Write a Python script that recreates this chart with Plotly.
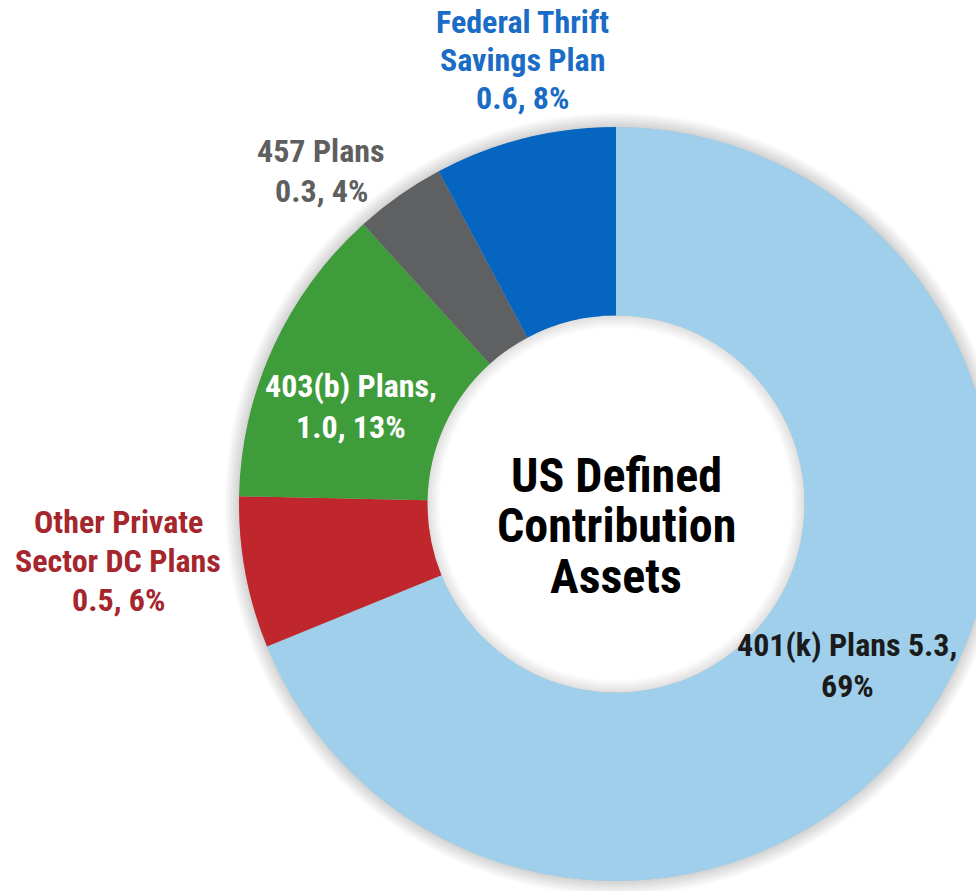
import plotly.graph_objects as go

# ---- data ----
plans = ["401(k) Plans", "Other Private Sector DC Plans", "403(b) Plans", "457 Plans", "Federal Thrift Savings Plan"]
assets = [5.3, 0.5, 1.0, 0.3, 0.6]          # trillions of dollars
shares = [69, 6, 13, 4, 8]                  # percent of total
slice_colors = ["#9fcfeb", "#c0272d", "#3f9c3a", "#5f6062", "#0565c1"]
label_colors = ["#1b1b1b", "#a5262c", "#ffffff", "#5f5f5f", "#1a6cc4"]
center_title = ["US Defined", "Contribution", "Assets"]

# label line breaks (as shown in the chart)
label_lines = [
    ["401(k) Plans {v},", "{p}%"],
    ["Other Private", "Sector DC Plans", "{v}, {p}%"],
    ["403(b) Plans,", "{v}, {p}%"],
    ["457 Plans", "{v}, {p}%"],
    ["Federal Thrift", "Savings Plan", "{v}, {p}%"],
]

# ---- layout geometry (screen pixels) ----
OFF = 0
W, H = 1010, 905
CX, CY, R = 616, 504, 377
FONT = "Roboto Condensed, Liberation Sans Narrow, DejaVu Sans Condensed, Roboto, sans-serif"


def px(x):
    return (x - OFF) / W


def py(y):
    return 1 - (y - OFF) / H


def dom(r):
    return dict(x=[px(CX - r), px(CX + r)], y=[py(CY + r), py(CY - r)])


def fits(r):
    d = dom(r)
    return d["x"][0] >= 0 and d["x"][1] <= 1 and d["y"][0] >= 0 and d["y"][1] <= 1


fig = go.Figure()

# soft outer shadow
for s in range(14, 0, -2):
    if not fits(R + s):
        continue
    fig.add_trace(go.Pie(values=[1], marker=dict(colors=["rgba(0,0,0,0.022)"], line=dict(width=0)),
                         domain=dom(R + s), hole=(R * 0.5) / (R + s), textinfo="none",
                         hoverinfo="skip", showlegend=False, sort=False))
# soft inner shadow in the hole
for s in range(12, 0, -2):
    fig.add_trace(go.Pie(values=[1], marker=dict(colors=["rgba(0,0,0,0.02)"], line=dict(width=0)),
                         domain=dom(R), hole=(R * 0.5 - s) / R, textinfo="none",
                         hoverinfo="skip", showlegend=False, sort=False))

fig.add_trace(go.Pie(
    labels=plans, values=assets, sort=False, direction="clockwise", rotation=0,
    hole=0.5, domain=dom(R),
    marker=dict(colors=slice_colors, line=dict(width=0)),
    textinfo="none", hoverinfo="label+value", showlegend=False,
))

# label positions: (center x, [line center y ...])
label_pos = [
    (847, [645, 686]),
    (118, [522, 561, 600]),
    (351, [386, 427]),
    (321, [151, 191]),
    (522, [22, 60, 98]),
]
for i, (x, ys) in enumerate(label_pos):
    for line, y in zip(label_lines[i], ys):
        txt = line.format(v=f"{assets[i]:.1f}", p=shares[i])
        fig.add_annotation(x=px(x), y=py(y), xref="paper", yref="paper",
                           text=f"<b><span style='font-stretch:condensed'>{txt}</span></b>", showarrow=False,
                           xanchor="center", yanchor="middle",
                           font=dict(family=FONT, size=32, color=label_colors[i]))

for line, y in zip(center_title, [475, 525, 576]):
    fig.add_annotation(x=px(CX), y=py(y), xref="paper", yref="paper",
                       text=f"<b><span style='font-stretch:condensed'>{line}</span></b>", showarrow=False,
                       xanchor="center", yanchor="middle", height=48, valign="middle",
                       font=dict(family=FONT, size=48, color="#000000"))

fig.update_layout(width=W, height=H, margin=dict(l=0, r=0, t=0, b=0),
                  paper_bgcolor="white", plot_bgcolor="white")
fig.write_html(
    "out.html",
    config={"displayModeBar": False},
    post_script="document.body.style.margin='0';document.body.style.overflow='hidden';"
                "document.documentElement.style.overflow='hidden';",
)
